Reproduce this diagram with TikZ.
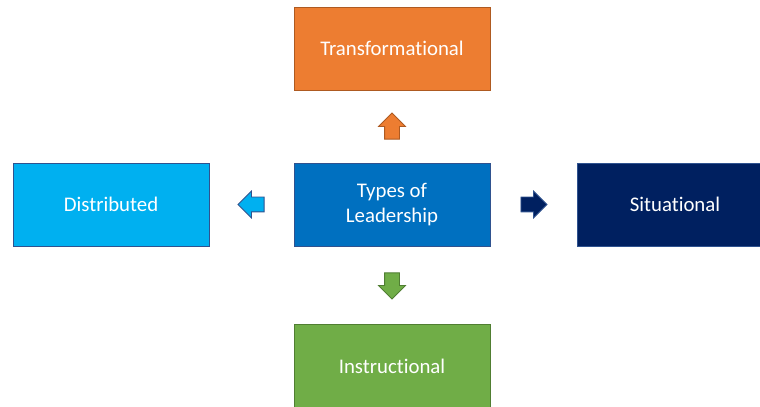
\documentclass[tikz,border=0pt]{standalone}
\usepackage{fontspec}
\setmainfont{Carlito}[Ligatures={NoCommon,NoContextual}]
\usetikzlibrary{positioning,shapes.arrows,calc}

\definecolor{orangeF}{HTML}{ED7D31}
\definecolor{orangeD}{HTML}{AE5A21}
\definecolor{greenF}{HTML}{70AD47}
\definecolor{greenD}{HTML}{507E32}
\definecolor{skyF}{HTML}{00B0F0}
\definecolor{blueF}{HTML}{0070C0}
\definecolor{navyF}{HTML}{002060}
\definecolor{blueD}{HTML}{2F528F}

\begin{document}
\begin{tikzpicture}[
x=0.25mm, y=0.25mm,
node distance = 18mm and 21mm,
box/.style = {draw, line width=0.7pt, minimum width=49mm, minimum height=20.75mm,
              inner sep=0pt, align=center, text=white,
              font=\fontsize{14.8}{17.8}\selectfont},
blockarrow/.style = {single arrow, draw, line width=0.6pt, inner sep=1.75mm,
              single arrow head extend=1.5mm, minimum height=6.5mm, anchor=tail}
]
\useasboundingbox (0,0) rectangle (760,406);

\node (types) [box, fill=blueF, draw=blueD] at (392,201.5) {Types of\\Leadership};

%
\node (trans) [box, fill=orangeF, draw=orangeD, above = of types] {Transformational};
\node (instr) [box, fill=greenF, draw=greenD, below = 19.5mm of types] {Instructional};
\node (distr) [box, fill=skyF, draw=blueD, left = of types] {Distributed};
\node (situa) [box, fill=navyF, draw=blueD, right = 21.5mm of types] {Situational};

%
\node (up)    [blockarrow, fill=orangeF, draw=orangeD, shape border rotate=90]
      at ($(types.north)!0.5!(trans.south)+(0,-13)$) {};
\node (down)  [blockarrow, fill=greenF, draw=greenD, shape border rotate=270]
      at ($(types.south)!0.5!(instr.north)+(0,13)$) {};
\node (left)  [blockarrow, fill=skyF, draw=blueD, shape border rotate=180]
      at ($(types.west)!0.5!(distr.east)+(13,0)$) {};
\node (right) [blockarrow, fill=navyF, draw=blueD]
      at ($(types.east)!0.5!(situa.west)+(-13,0)$) {};

\end{tikzpicture}
\end{document}
